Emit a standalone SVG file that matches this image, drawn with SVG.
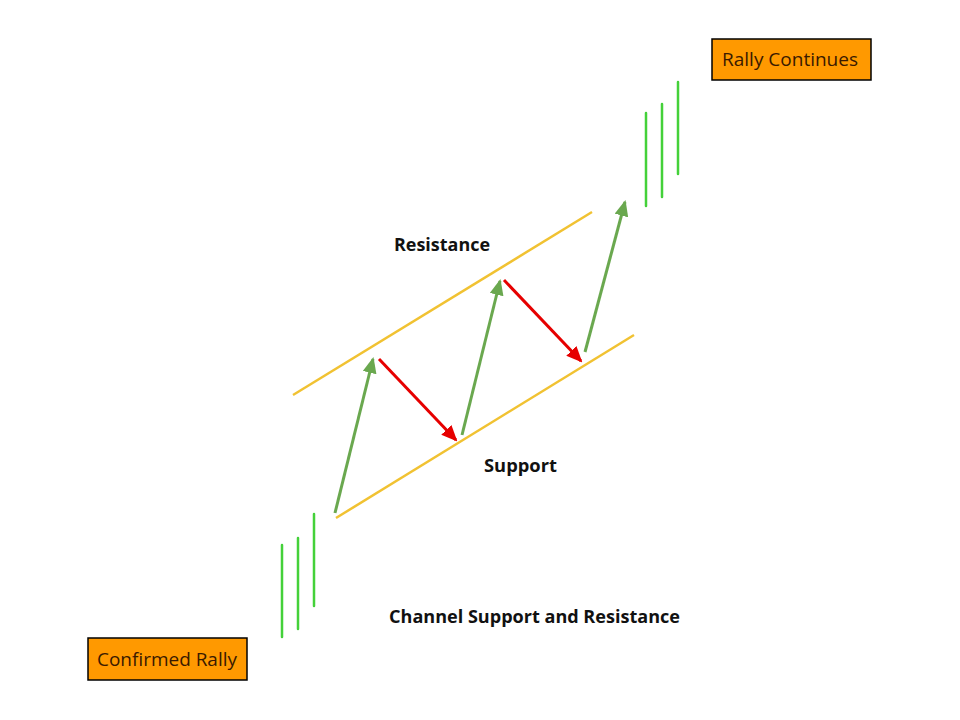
<svg xmlns="http://www.w3.org/2000/svg" width="960" height="720" viewBox="0 0 960 720">
<style>
.bar{stroke:#44d13a;stroke-width:2.5;stroke-linecap:round}
.chan{stroke:#f1c232;stroke-width:2.5;fill:none}
.up{stroke:#6aa84f;stroke-width:3;fill:none}
.down{stroke:#e60000;stroke-width:3;fill:none}
.lbl{font-family:"Open Sans",Lato,"Liberation Sans",sans-serif;font-weight:bold;font-size:17px;fill:#111}
.box{fill:#ff9900;stroke:#000;stroke-width:1.5}
.boxt{font-family:"Open Sans",Lato,"Liberation Sans",sans-serif;font-size:18px;fill:#3a1a00}
</style>
<defs>
<marker id="ag" markerWidth="16" markerHeight="14" refX="14" refY="7" orient="auto" markerUnits="userSpaceOnUse" viewBox="0 0 16 14"><path d="M0,0 L16,7 L0,14 z" fill="#6aa84f"/></marker>
<marker id="ar" markerWidth="16" markerHeight="14" refX="14" refY="7" orient="auto" markerUnits="userSpaceOnUse" viewBox="0 0 16 14"><path d="M0,0 L16,7 L0,14 z" fill="#e60000"/></marker>
</defs>
<rect width="960" height="720" fill="#fff"/>
<g id="bars-left">
<line class="bar" x1="282" y1="545" x2="282" y2="637"/>
<line class="bar" x1="298" y1="538" x2="298" y2="629"/>
<line class="bar" x1="314" y1="514" x2="314" y2="606"/>
</g>
<g id="bars-right">
<line class="bar" x1="646" y1="113" x2="646" y2="206"/>
<line class="bar" x1="662" y1="104" x2="662" y2="197"/>
<line class="bar" x1="678" y1="82" x2="678" y2="174"/>
</g>
<g id="channel">
<line class="chan" x1="293" y1="395" x2="592" y2="212"/>
<line class="chan" x1="336" y1="518" x2="634" y2="335"/>
</g>
<g id="connectors">
<line class="up" x1="335" y1="513" x2="373" y2="359" marker-end="url(#ag)"/>
<line class="up" x1="462" y1="435" x2="500" y2="281" marker-end="url(#ag)"/>
<line class="up" x1="585" y1="352" x2="625" y2="202" marker-end="url(#ag)"/>
<line class="down" x1="379" y1="359" x2="456" y2="440" marker-end="url(#ar)"/>
<line class="down" x1="504" y1="280" x2="581" y2="361" marker-end="url(#ar)"/>
</g>
<g id="rally-continues">
<rect class="box" x="712" y="39" width="159" height="41"/>
<text class="boxt" x="722" y="66" textLength="136" lengthAdjust="spacingAndGlyphs">Rally Continues</text>
</g>
<g id="confirmed-rally">
<rect class="box" x="88" y="638" width="159" height="42"/>
<text class="boxt" x="97" y="666" textLength="140" lengthAdjust="spacingAndGlyphs">Confirmed Rally</text>
</g>
<text class="lbl" x="394" y="251" textLength="96" lengthAdjust="spacingAndGlyphs">Resistance</text>
<text class="lbl" x="484" y="472" textLength="73" lengthAdjust="spacingAndGlyphs">Support</text>
<text class="lbl" x="389" y="623" textLength="291" lengthAdjust="spacingAndGlyphs">Channel Support and Resistance</text>
</svg>
